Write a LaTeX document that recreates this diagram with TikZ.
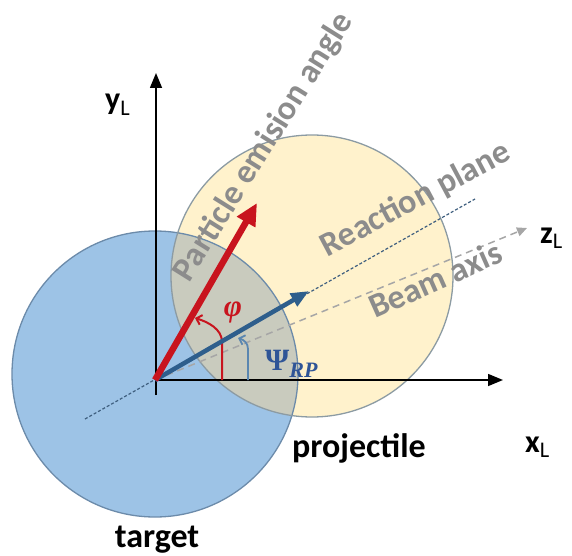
\documentclass[tikz,border=0pt]{standalone}
\usepackage{fontspec}
\setmainfont{Carlito}
\newfontfamily\grfont{Liberation Serif}
\usepackage{tikz}
\usetikzlibrary{arrows.meta}
\definecolor{tgtblue}{HTML}{9DC3E6}
\definecolor{tgtedge}{HTML}{6C8BAA}
\definecolor{prjyellow}{HTML}{FFF2CC}
\definecolor{prjedge}{HTML}{8C9BA3}
\definecolor{ovlgray}{HTML}{C9CBBE}
\definecolor{emred}{HTML}{C8141E}
\definecolor{rpblue}{HTML}{2E5E8C}
\definecolor{rparc}{HTML}{5A86B0}
\definecolor{rpdash}{HTML}{3F5F7F}
\definecolor{beamgray}{HTML}{A6A6A6}
\definecolor{txtgray}{HTML}{8C8C8C}
\definecolor{psiblue}{HTML}{2F5597}
\tikzset{
  lbl/.style={font=\fontsize{34}{40}\selectfont\bfseries,inner sep=0pt},
  glbl/.style={lbl,text=txtgray},
  axlbl/.style={lbl,font=\fontsize{32}{38}\selectfont\bfseries,anchor=base west},
  mlbl/.style={inner sep=0pt,font=\fontsize{31}{36}\selectfont\grfont\bfseries},
  axisar/.style={-{Triangle[length=15pt,width=12pt]},line width=1.5pt,black},
  redar/.style={-{Triangle[length=22pt,width=20pt]},line width=6.5pt,emred},
  bluear/.style={-{Triangle[length=18pt,width=14pt]},line width=4.5pt,rpblue},
  anglear/.style={-{Straight Barb[length=5pt,width=10pt]},line width=2pt},
  rpline/.style={rpdash,line width=1.2pt,dash pattern=on 3pt off 2pt},
  beamline/.style={beamgray,line width=1.5pt,dash pattern=on 7pt off 5pt,-{Triangle[length=10pt,width=9pt]}},
}
\begin{document}
\begin{tikzpicture}[x=1pt,y=1pt]
  \useasboundingbox (0,0) rectangle (572,555);
  % nuclei
  \fill[tgtblue] (155,181) circle (143);
  \fill[prjyellow] (312,279) circle (141);
  \begin{scope}
    \clip (155,181) circle (143);
    \fill[ovlgray] (312,279) circle (141);
  \end{scope}
  \draw[tgtedge,line width=1.3pt] (155,181) circle (143);
  \draw[prjedge,line width=1.3pt] (312,279) circle (141);
  % points
  \coordinate (O) at (155,175);
  \coordinate (xend) at (503,175);
  \coordinate (ybot) at (156,160);
  \coordinate (yend) at (156,482);
  \coordinate (redtip) at (257,352);
  \coordinate (bluetip) at (309,264);
  \coordinate (rpstart) at (85,136);
  \coordinate (rpend) at (475,356);
  \coordinate (zend) at (527,327);
  % planes and axes
  \draw[rpline] (rpstart)--(rpend);
  \draw[beamline] (O)--(zend);
  \draw[axisar] (O)--(xend);
  \draw[axisar] (ybot)--(yend);
  % angles
  \draw[anglear,emred] (222,175)--(222,213) .. controls (222,226) and (208,233) .. (195,237);
  \draw[anglear,rparc,line width=1.8pt] (248,175)--(248,206) .. controls (248,212) and (244,215) .. (238,217);
  \draw[bluear] (O)--(bluetip);
  \draw[redar] (O)--(redtip);
  % labels
  \node[glbl,rotate=58] (emlbl) at (264,408) {Particle emision angle};
  \node[glbl,rotate=28,anchor=base] (rplbl) at (420,347) {Reaction plane};
  \node[glbl,rotate=24,anchor=base] (beamlbl) at (440,265) {Beam axis};
  \node[mlbl,text=emred,anchor=base] (philbl) at (233,239) {\itshape φ};
  \node[mlbl,text=psiblue,anchor=base west] (psilbl) at (265,185) {Ψ\raisebox{-7pt}{\fontsize{22}{26}\selectfont\itshape RP}};
  \node[axlbl] (ylbl) at (105,445) {y\textsubscript{\mdseries L}};
  \node[axlbl] (zlbl) at (540,312) {z\textsubscript{\mdseries L}};
  \node[axlbl] (xlbl) at (525,103) {x\textsubscript{\mdseries L}};
  \node[lbl,anchor=base] (prjlbl) at (359,98) {projectile};
  \node[lbl,anchor=base] (tgtlbl) at (157,8) {target};
\end{tikzpicture}
\end{document}
